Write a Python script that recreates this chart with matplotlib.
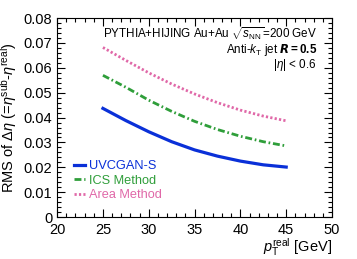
import matplotlib
matplotlib.use("Agg")
import matplotlib.pyplot as plt
from matplotlib.ticker import MultipleLocator, FuncFormatter

plt.rcParams['font.family'] = ['Liberation Sans', 'DejaVu Sans']
plt.rcParams['mathtext.fontset'] = 'custom'
plt.rcParams['mathtext.rm'] = 'Liberation Sans'
plt.rcParams['mathtext.it'] = 'Liberation Sans:italic'
plt.rcParams['mathtext.bf'] = 'Liberation Sans:bold'

pt = [25, 27.5, 30, 32.5, 35, 37.5, 40, 42.5, 45]
uvcgan = [0.0437, 0.0388, 0.0343, 0.0303, 0.0270, 0.0245, 0.0225, 0.0210, 0.0201]
ics = [0.0570, 0.0522, 0.0470, 0.0425, 0.0385, 0.0352, 0.0325, 0.0303, 0.0286]
area = [0.0682, 0.0630, 0.0580, 0.0535, 0.0495, 0.0460, 0.0430, 0.0406, 0.0387]

fig = plt.figure(figsize=(3.57, 2.59), dpi=100)
ax = fig.add_axes([0.160, 0.162, 0.770, 0.768])

ax.plot(pt, uvcgan, color='#0a30d8', lw=2.3, ls='-', label='UVCGAN-S')
ax.plot(pt, ics, color='#2f9e3a', lw=2.0, ls=(0, (2.5, 1.0, 0.6, 1.0)), label='ICS Method')
ax.plot(pt, area, color='#e068a8', lw=2.0, ls=(0, (0.8, 0.8)), label='Area Method')

ax.set_xlim(20, 50)
ax.set_ylim(0, 0.08)
ax.xaxis.set_major_locator(MultipleLocator(5))
ax.xaxis.set_minor_locator(MultipleLocator(1))
ax.yaxis.set_major_locator(MultipleLocator(0.01))
ax.yaxis.set_minor_locator(MultipleLocator(0.002))
ax.yaxis.set_major_formatter(FuncFormatter(lambda v, p: '0' if abs(v) < 1e-9 else '%.2f' % v))
ax.tick_params(which='both', direction='in', top=True, right=True, labelsize=10.5)
ax.tick_params(which='major', length=6, width=0.8)
ax.tick_params(which='minor', length=3, width=0.8)
ax.tick_params(axis='x', pad=4)

ax.set_ylabel(r'RMS of $\Delta\eta$ (=$\eta^{\rm sub}$-$\eta^{\rm real}$)', fontsize=10.5, labelpad=3)
ax.set_xlabel(r'$p_{\rm T}^{\rm real}$ [GeV]', fontsize=10.5, loc='right', labelpad=0)

ax.text(0.945, 0.925, r'PYTHIA+HIJING Au+Au $\sqrt{s_{\rm NN}}$=200 GeV', transform=ax.transAxes,
        ha='right', va='center', fontsize=8.4)
ax.text(0.945, 0.839, r'Anti-$k_{\rm T}$ jet $\boldsymbol{R}$$\bf{=0.5}$', transform=ax.transAxes,
        ha='right', va='center', fontsize=8.4)
ax.text(0.945, 0.764, r'$|\eta|$ < 0.6', transform=ax.transAxes,
        ha='right', va='center', fontsize=8.4)

leg = ax.legend(loc='lower left', bbox_to_anchor=(0.06, 0.08), frameon=False, fontsize=9.2,
                handlelength=0.9, handletextpad=0.3, labelspacing=0.2, borderaxespad=0,
                borderpad=0)
for t, l in zip(leg.get_texts(), leg.get_lines()):
    t.set_color(l.get_color())

fig.savefig('out.png', dpi=100)
